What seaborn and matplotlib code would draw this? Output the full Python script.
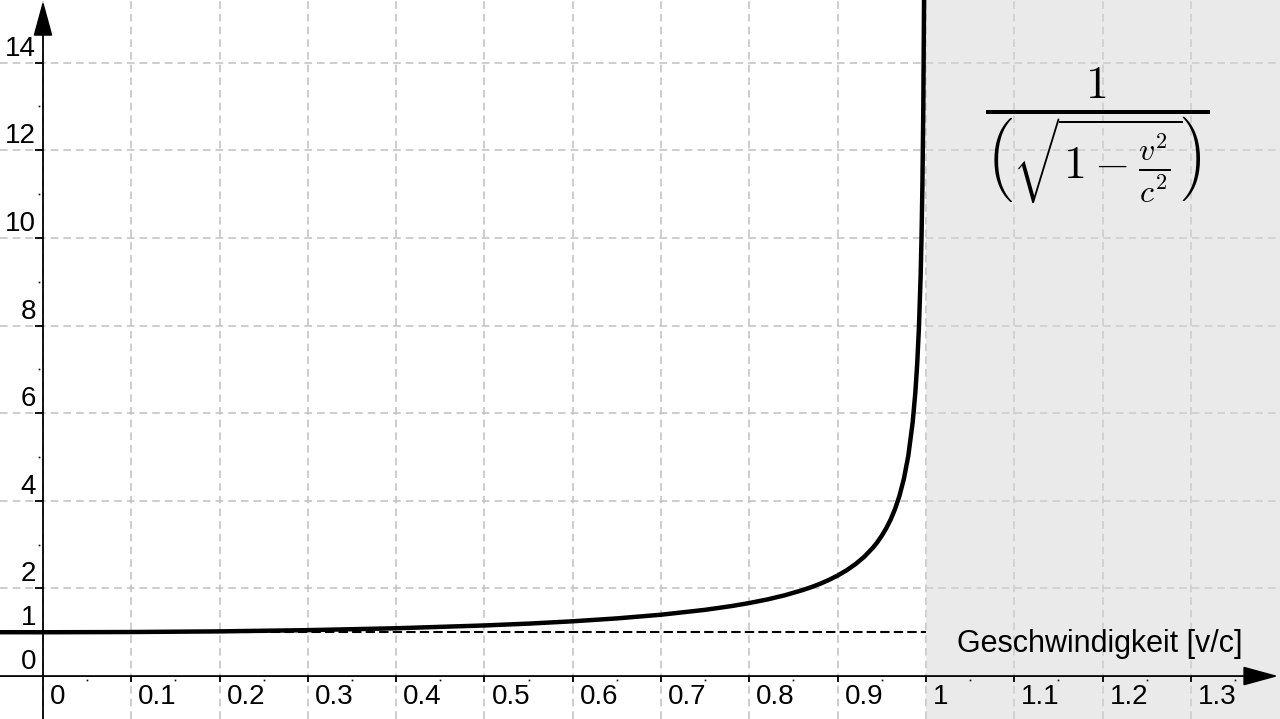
import numpy as np
import pandas as pd
import matplotlib
matplotlib.use("Agg")
import matplotlib.pyplot as plt
import matplotlib.transforms as mtransforms
from matplotlib.lines import TICKDOWN, TICKLEFT
from matplotlib.patches import ArrowStyle
import seaborn as sns

# ---- data ----
velocity = [-0.05, 0.0, 0.1, 0.2, 0.3, 0.4, 0.5, 0.55, 0.6, 0.65, 0.7, 0.75, 0.78, 0.8,
            0.82, 0.84, 0.86, 0.87, 0.88, 0.89, 0.9, 0.91, 0.92, 0.93, 0.94, 0.945,
            0.95, 0.955, 0.96, 0.965, 0.97,
            0.975, 0.98, 0.985, 0.988, 0.99, 0.992, 0.994, 0.995, 0.996, 0.997, 0.998]
gamma = [1.001, 1.0, 1.005, 1.02, 1.048, 1.091, 1.155, 1.197, 1.25, 1.316, 1.40, 1.512, 1.598, 1.667,
         1.747, 1.843, 1.96, 2.028, 2.105, 2.193, 2.294, 2.412, 2.552, 2.72, 2.931, 3.057,
         3.203, 3.372, 3.571, 3.813, 4.113,
         4.50, 5.025, 5.795, 6.474, 7.089, 7.92, 9.14, 10.01, 11.19, 12.92, 15.82]
x_ticks = [0, 0.1, 0.2, 0.3, 0.4, 0.5, 0.6, 0.7, 0.8, 0.9, 1, 1.1, 1.2, 1.3]
x_tick_labels = ["0", "0.1", "0.2", "0.3", "0.4", "0.5", "0.6", "0.7", "0.8", "0.9",
                 "1", "1.1", "1.2", "1.3"]
x_minor = [0.05, 0.15, 0.25, 0.35, 0.45, 0.55, 0.65, 0.75, 0.85, 0.95, 1.05, 1.15, 1.25, 1.35]
y_grid = [2, 4, 6, 8, 10, 12, 14]
y_labels_pos = [0, 1, 2, 4, 6, 8, 10, 12, 14]
y_labels = ["0", "1", "2", "4", "6", "8", "10", "12", "14"]
y_minor = [1, 3, 5, 7, 9, 11, 13]
c_limit = 1.0
ref_level = 1.0
x_label = "Geschwindigkeit [v/c]"
formula = r"$\frac{1}{\left(\sqrt{1-\frac{v^2}{c^2}}\right)}$"

df = pd.DataFrame({"v": velocity, "gamma": gamma})

sns.set_theme(style="white")
plt.rcParams["font.family"] = ["Liberation Sans", "DejaVu Sans"]
plt.rcParams["mathtext.fontset"] = "cm"

fig = plt.figure(figsize=(12.8, 7.19), dpi=100)
ax = fig.add_axes([0, 0, 1, 1])
xmin, xmax = -0.0487, 1.401
ymin, ymax = -0.98, 15.43
ax.set_xlim(xmin, xmax)
ax.set_ylim(ymin, ymax)
for s in ax.spines.values():
    s.set_visible(False)

# grid
ax.set_xticks(x_ticks)
ax.set_yticks(y_grid)
ax.tick_params(length=0, labelleft=False, labelbottom=False)
ax.grid(True, color="#c0c0c0", lw=1.1, ls=(0, (5, 3.3)), zorder=0)
ax.set_axisbelow(True)

# shaded region beyond c
ax.axvspan(c_limit, xmax, color="#d7d7d7", alpha=0.5, lw=0, zorder=1)

# dashed reference line
ax.hlines(ref_level, xmin, c_limit, colors="black", lw=1.5, linestyles=(0, (4.5, 2)), zorder=3)

# curve
sns.lineplot(data=df, x="v", y="gamma", color="black", lw=3.2, estimator=None,
             sort=True, ax=ax, zorder=5)
ax.set_xlabel("")
ax.set_ylabel("")

# axes with arrows
astyle = ArrowStyle("-|>", head_length=1.1, head_width=0.3)
ax.annotate("", xy=(xmax - 0.002, 0), xytext=(xmin, 0),
            arrowprops=dict(arrowstyle=astyle, mutation_scale=20, color="black",
                            lw=1.3, shrinkA=0, shrinkB=0), zorder=6)
ax.annotate("", xy=(0, ymax - 0.02), xytext=(0, ymin),
            arrowprops=dict(arrowstyle=astyle, mutation_scale=20, color="black",
                            lw=1.3, shrinkA=0, shrinkB=0), zorder=6)

# tick marks
ax.plot(x_ticks[1:], [0] * (len(x_ticks) - 1), ls="", marker=TICKDOWN, ms=4,
        mew=1.3, color="black", zorder=6)
ax.plot([0] * len(y_grid), y_grid, ls="", marker=TICKLEFT, ms=5.5,
        mew=1.3, color="black", zorder=6)
off_down = ax.transData + mtransforms.ScaledTranslation(0, -4 / 100, fig.dpi_scale_trans)
ax.plot(x_minor, [0] * len(x_minor), ls="", marker="s", ms=1.2, mew=0,
        color="black", transform=off_down, zorder=6)
off_left = ax.transData + mtransforms.ScaledTranslation(-4 / 100, 0, fig.dpi_scale_trans)
ax.plot([0] * len(y_minor), y_minor, ls="", marker="s", ms=1.2, mew=0,
        color="black", transform=off_left, zorder=6)

# tick labels
tx = ax.transData + mtransforms.ScaledTranslation(7 / 100, -28 / 100, fig.dpi_scale_trans)
for xv, lab in zip(x_ticks, x_tick_labels):
    ax.text(xv, 0, lab, transform=tx, ha="left", va="baseline", fontsize=20,
            color="black", zorder=7)
ty = ax.transData + mtransforms.ScaledTranslation(-7 / 100, 7 / 100, fig.dpi_scale_trans)
for yv, lab in zip(y_labels_pos, y_labels):
    ax.text(0, yv, lab, transform=ty, ha="right", va="baseline", fontsize=20,
            color="black", zorder=7)

# axis label
ax.text(1.035, 0.55, x_label, ha="left", va="baseline", fontsize=22, color="black", zorder=7)

# formula
ax.text(1.194, 12.3, formula, ha="center", va="center", fontsize=47, color="black", zorder=7)

fig.savefig("out.png", dpi=100)
